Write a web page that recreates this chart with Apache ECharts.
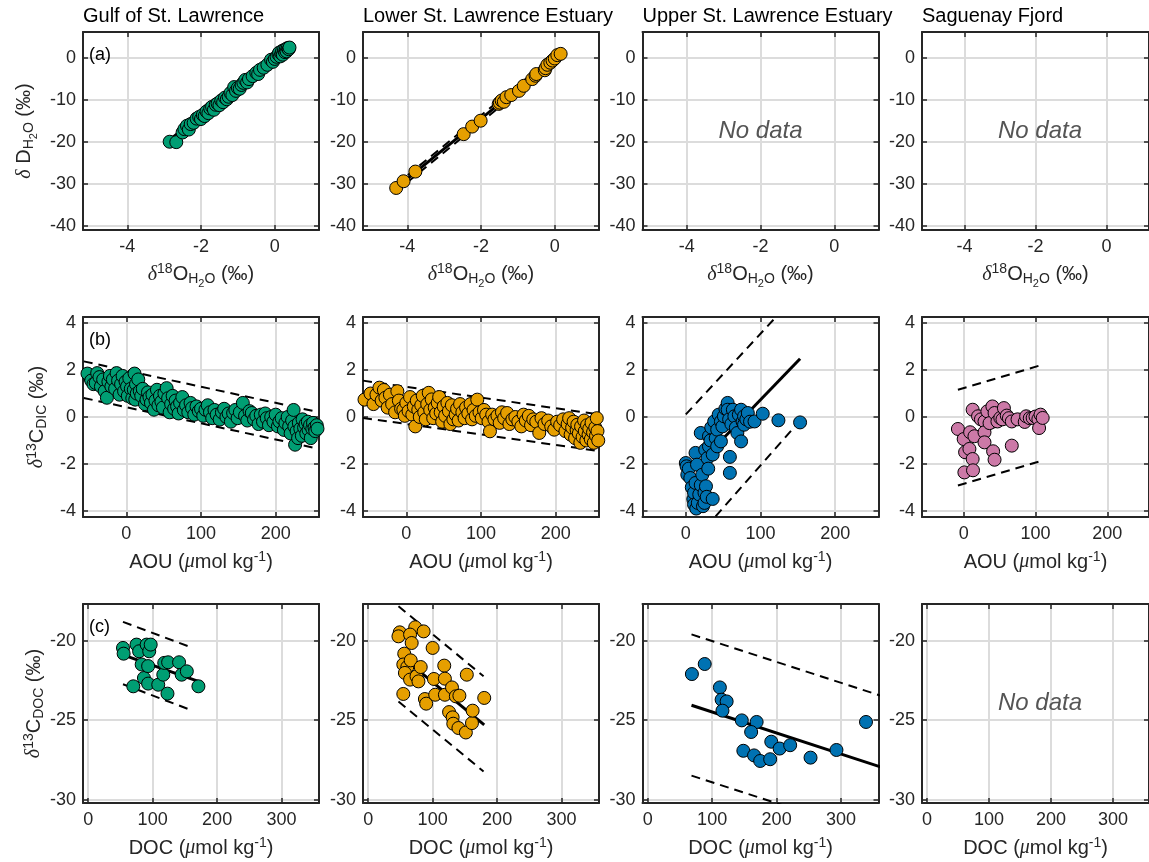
<!DOCTYPE html>
<html><head><meta charset="utf-8">
<script src="https://cdn.jsdelivr.net/npm/echarts@6/dist/echarts.min.js"></script>
<style>html,body{margin:0;padding:0;background:#fff}#c{width:1149px;height:862px}</style>
</head><body><div id="c"></div>
<script>
// ---------------- DATA ----------------
const columnTitles = ['Gulf of St. Lawrence', 'Lower St. Lawrence Estuary', 'Upper St. Lawrence Estuary', 'Saguenay Fjord'];
const panelLetters = ['(a)', '(b)', '(c)'];
const noDataText = 'No data';

const rowXRange = [[-5.2, 1.2], [-58, 258], [-8, 358]];
const rowYRange = [[-41, 6.1], [-4.26, 4.26], [-30.2, -17.7]];
const rowXTicks = [[-4, -2, 0], [0, 100, 200], [0, 100, 200, 300]];
const rowYTicks = [[-40, -30, -20, -10, 0], [-4, -2, 0, 2, 4], [-30, -25, -20]];

// (a) water isotopes
const gulfD18O = [-2.85,-2.67,-2.5,-2.45,-2.38,-2.33,-2.28,-2.2,-2.12,-2.05,-2.0,-1.95,-1.9,-1.85,-1.8,-1.75,-1.7,-1.65,-1.6,-1.55,-1.5,-1.45,-1.4,-1.35,-1.3,-1.25,-1.2,-1.15,-1.1,-1.05,-1.0,-0.95,-0.9,-0.85,-0.8,-0.75,-0.7,-0.6,-0.5,-0.45,-0.4,-0.3,-0.2,-0.1,-0.05,0.0,0.05,0.1,0.12,0.15,0.18,0.2,0.22,0.25,0.28,0.3,0.32,0.35,0.38,0.4];
const gulfDD   = [-20.0,-20.1,-17.8,-17.0,-16.2,-17.1,-15.8,-15.5,-14.5,-14.1,-14.6,-13.6,-13.9,-12.8,-13.2,-12.1,-11.7,-12.4,-11.2,-10.9,-11.3,-10.2,-10.6,-9.5,-9.9,-9.3,-8.4,-8.9,-7.0,-7.9,-7.2,-7.4,-6.5,-6.0,-5.3,-5.9,-5.1,-4.4,-3.6,-3.9,-2.9,-2.4,-1.7,-0.5,-1.0,-0.3,0.2,0.8,1.2,0.3,1.0,1.6,0.7,1.8,1.3,2.0,1.5,2.3,2.0,2.4];
const lowerD18O = [-4.30,-4.10,-3.78,-2.47,-2.24,-2.01,-1.52,-1.49,-1.44,-1.38,-1.31,-1.18,-0.97,-0.84,-0.61,-0.52,-0.50,-0.27,-0.25,-0.20,-0.12,-0.06,0.0,0.07,0.16];
const lowerDD   = [-31.0,-29.4,-27.1,-18.2,-16.4,-15.0,-11.0,-10.7,-10.2,-10.5,-9.4,-8.9,-7.9,-6.7,-5.1,-4.3,-3.9,-3.0,-2.5,-1.7,-1.2,-0.7,-0.2,0.6,0.9];

// (b) AOU vs d13C-DIC  [AOU, d13C]
const gulfDicPoints = [[-52,1.85],[-47,1.55],[-44,1.4],[-41,1.45],[-39,1.87],[-36,1.7],[-34,1.3],[-31,1.6],[-29,1.1],[-26,0.82],[-24,1.5],[-22,1.75],[-20,1.3],[-18,1.6],[-15,1.2],[-13,1.87],[-11,1.55],[-9,0.95],[-7,1.4],[-5,1.75],[-3,1.1],[-1,1.5],[1,1.3],[2,0.9],[4,1.65],[6,1.2],[8,0.8],[10,1.16],[11,1.85],[12,0.74],[13,1.4],[14,1.0],[16,1.6],[18,1.1],[20,0.9],[22,1.2],[25,0.55],[27,0.74],[29,1.05],[31,0.85],[33,0.6],[35,0.95],[37,0.31],[39,0.7],[41,1.16],[43,0.5],[45,0.9],[47,0.65],[49,0.4],[51,1.0],[54,1.23],[56,0.8],[58,0.2],[60,0.55],[62,0.9],[64,0.35],[66,0.7],[68,0.45],[70,0.15],[72,0.6],[75,0.85],[77,0.3],[80,0.5],[83,0.2],[86,0.6],[88,0.38],[91,0.1],[94,0.45],[97,0.25],[100,0.35],[103,0.05],[106,0.31],[109,0.5],[112,0.2],[115,-0.05],[118,0.3],[121,0.1],[125,-0.11],[128,0.2],[131,0.35],[134,0.0],[137,0.15],[140,-0.2],[143,0.17],[146,0.3],[149,-0.05],[152,0.2],[156,0.6],[159,0.05],[162,-0.15],[165,0.25],[168,0.17],[171,-0.1],[174,0.05],[177,-0.3],[180,0.1],[183,-0.2],[186,0.15],[188,-0.05],[191,-0.35],[194,0.0],[197,-0.2],[200,0.1],[203,-0.4],[205,-0.19],[208,-0.05],[211,-0.55],[213,-0.25],[216,0.0],[218,-0.4],[220,-0.7],[222,-0.15],[224,0.3],[225,-0.4],[226,-1.18],[228,-0.6],[230,-0.9],[231,-0.25],[233,-0.5],[235,-0.8],[236,-0.1],[238,-0.45],[240,-0.3],[241,-0.7],[243,-0.2],[244,-0.55],[246,-0.35],[247,-0.9],[249,-0.5],[250,-0.25],[252,-0.45],[253,-0.6],[255,-0.35],[256,-0.5]];
const lowerDicPoints = [[-56,0.74],[-48,1.0],[-44,0.55],[-40,0.95],[-36,1.25],[-33,0.7],[-30,1.15],[-28,0.82],[-25,0.4],[-22,0.95],[-19,0.55],[-15,0.2],[-12,1.1],[-10,0.7],[-7,0.35],[-4,0.31],[-2,0.05],[0,0.6],[3,0.25],[5,0.85],[8,0.1],[10,0.45],[12,-0.4],[14,0.7],[16,0.3],[18,0.0],[20,0.5],[22,0.9],[24,0.2],[26,-0.1],[28,0.55],[30,1.03],[32,0.3],[34,0.75],[36,-0.05],[38,0.4],[40,0.15],[42,0.6],[44,0.85],[46,0.2],[48,-0.2],[50,0.45],[52,0.05],[55,0.6],[57,0.25],[59,-0.3],[61,0.5],[63,-0.1],[66,0.1],[68,0.35],[70,-0.15],[72,0.55],[75,0.2],[78,-0.05],[80,0.4],[83,0.15],[86,0.55],[88,-0.1],[90,0.3],[93,0.05],[95,0.74],[98,0.2],[101,-0.05],[104,0.3],[107,0.1],[110,-0.2],[112,-0.61],[115,0.1],[118,-0.1],[122,0.05],[125,-0.25],[128,0.2],[131,-0.05],[135,0.17],[138,-0.3],[142,-0.1],[146,0.0],[150,-0.2],[154,-0.4],[157,0.1],[160,-0.15],[164,0.05],[167,-0.35],[170,-0.1],[174,-0.2],[178,-0.68],[181,-0.05],[185,-0.3],[190,-0.15],[194,-0.4],[198,-0.54],[202,-0.2],[206,-0.35],[210,-0.1],[213,-0.6],[216,-0.3],[218,-0.05],[220,-0.75],[222,-0.45],[224,-0.2],[226,-0.9],[228,-0.55],[229,-0.33],[231,-0.7],[233,-1.1],[234,-0.4],[236,-0.85],[238,-0.15],[239,-0.6],[241,-1.0],[242,-0.35],[244,-0.75],[245,-0.5],[247,-0.95],[248,-0.25],[250,-0.65],[251,-1.1],[253,-0.45],[254,-0.8],[255,-0.05],[256,-0.6],[257,-1.0]];
const upperDicPoints = [[0,-1.96],[1,-2.1],[2,-2.46],[4,-2.2],[6,-2.6],[8,-3.0],[10,-3.5],[11,-3.23],[11,-3.73],[13,-1.53],[13,-2.81],[14,-3.9],[15,-2.03],[16,-3.66],[18,-3.3],[20,-0.68],[20,-2.9],[22,-2.46],[23,-3.8],[25,-3.23],[25,-3.66],[26,-1.4],[27,-2.95],[28,-3.4],[29,-1.75],[30,-2.2],[31,-0.82],[31,-1.25],[33,-1.0],[34,-0.45],[36,-3.49],[36,-1.6],[38,-0.19],[40,-0.9],[42,-0.54],[42,-1.25],[44,0.1],[47,-0.19],[47,-1.04],[49,-0.4],[51,0.03],[53,0.35],[56,0.6],[56,0.31],[58,-0.1],[59,-1.70],[59,-2.38],[61,-0.3],[63,0.31],[65,0.03],[67,-0.45],[69,-0.68],[71,0.1],[74,0.31],[74,-1.04],[76,-0.2],[78,0.03],[78,-0.33],[81,-0.1],[83,0.17],[86,-0.2],[92,-0.19],[103,0.14],[124,-0.14],[153,-0.23]];
const sagDicPoints = [[-8,-0.51],[0,-0.94],[1,-2.36],[2,-1.5],[8,-1.36],[9,-0.65],[12.5,-1.79],[12.5,0.31],[13,-2.27],[15,-0.82],[20,0.03],[24,-0.1],[29,-0.19],[29,-0.65],[29,-1.08],[33,0.24],[36,-0.26],[40,0.45],[41,-1.46],[43,0.17],[43,-1.82],[47,-0.19],[51,-0.04],[54,-0.1],[56,0.38],[60,0.06],[63,-0.05],[67,-0.19],[67,-1.22],[75,-0.1],[85,-0.21],[87,0.03],[92,-0.05],[96,-0.04],[100,0.02],[104,-0.09],[105,-0.47],[107,0.1],[110,-0.04]];

// (c) DOC vs d13C-DOC  [DOC, d13C]
const gulfDocPoints = [[54,-20.46],[55,-20.82],[70,-22.87],[75,-20.25],[79,-20.67],[83,-21.5],[86.5,-22.35],[90.7,-20.25],[94.7,-20.67],[97,-20.25],[93,-21.6],[93,-22.7],[108.7,-22.77],[116.5,-22.14],[118,-21.4],[124,-21.36],[123,-23.33],[141,-21.36],[145,-22.14],[153,-21.93],[171,-22.87]];
const lowerDocPoints = [[49,-19.48],[47,-19.73],[73,-19.16],[86,-19.42],[100,-20.46],[65,-19.62],[67.5,-20.15],[56,-20.82],[54.5,-21.5],[60.7,-21.66],[66,-21.24],[57,-22.03],[65,-22.45],[75,-22.24],[81.5,-21.66],[78,-22.56],[54.5,-23.35],[88,-23.67],[90,-23.96],[102,-22.41],[104,-23.4],[118,-21.57],[119,-22.39],[119,-23.4],[130,-22.94],[136,-23.5],[141.5,-23.46],[125.5,-24.49],[131,-24.82],[132,-25.22],[140,-25.49],[151.5,-25.77],[161,-25.18],[162,-24.4],[153,-22.14],[180,-23.6]];
const upperDocPoints = [[68.6,-22.1],[88.5,-21.47],[112,-22.94],[114.7,-23.71],[122.5,-23.82],[116,-24.4],[146,-25.01],[169,-25.11],[160.5,-25.74],[148.4,-26.92],[165,-27.21],[174.5,-27.56],[190,-27.45],[191.7,-26.35],[204.7,-26.78],[221,-26.57],[252.6,-27.35],[292.8,-26.87],[338.6,-25.11]];

// regression lines (x ends, fitted y) and prediction bounds (dashed)
const gulfIsoFitX = [-2.85, 0.4],  gulfIsoFitY = [-20.2, 2.26],  gulfIsoHiY = [-19.4, 3.06],  gulfIsoLoY = [-21.0, 1.46];
const lowerIsoFitX = [-4.3, 0.16], lowerIsoFitY = [-30.99, 0.9], lowerIsoHiY = [-30.2, 1.7],  lowerIsoLoY = [-31.8, 0.1];
const gulfDicFitX = [-57, 257],  gulfDicFitY = [1.59, -0.57],  gulfDicHiY = [2.37, 0.21],  gulfDicLoY = [0.81, -1.35];
const lowerDicFitX = [-58, 258], lowerDicFitY = [0.75, -0.67], lowerDicHiY = [1.55, 0.11], lowerDicLoY = [-0.04, -1.45];
const upperDicFitX = [0, 153],   upperDicFitY = [-2.57, 2.48], upperDicHiY = [0.11, 5.37], upperDicLoY = [-5.67, -0.15];
const sagDicFitX = [-8, 110],    sagDicFitY = [-0.88, 0.19],   sagDicHiY = [1.16, 2.23],   sagDicLoY = [-2.92, -1.85];
const gulfDocFitX = [54, 171],   gulfDocFitY = [-20.9, -22.56],  gulfDocBandX = [54, 162],  gulfDocHiY = [-18.82, -20.46], gulfDocLoY = [-22.74, -24.4];
const lowerDocFitX = [47, 180],  lowerDocFitY = [-20.83, -25.29], lowerDocBandX = [47, 179], lowerDocHiY = [-17.84, -22.24], lowerDocLoY = [-23.82, -28.22];
const upperDocFitX = [68, 370],  upperDocFitY = [-24.06, -28.05], upperDocBandX = [68, 370], upperDocHiY = [-19.61, -23.57], upperDocLoY = [-28.48, -32.45];

// ---------------- STYLE / LAYOUT ----------------
const GREEN = '#009E73', ORANGE = '#E69F00', BLUE = '#0072B2', PINK = '#CC79A7';
const AX = '#262626';
const gridLefts = [83, 363, 642.5, 922];
const gridWidth = 236;
const gridTops = [32, 317, 604];
const gridHeights = [198, 200, 199];

const zip = (a, b) => a.map((v, i) => [v, b[i]]);
const fit = (fx, fy, hi, lo, bx) => ({ fx, fy, bx: bx || fx, hi, lo });

const panels = [
  { r: 0, c: 0, pts: zip(gulfD18O, gulfDD), color: GREEN, fit: fit(gulfIsoFitX, gulfIsoFitY, gulfIsoHiY, gulfIsoLoY) },
  { r: 0, c: 1, pts: zip(lowerD18O, lowerDD), color: ORANGE, fit: fit(lowerIsoFitX, lowerIsoFitY, lowerIsoHiY, lowerIsoLoY) },
  { r: 0, c: 2, noData: true },
  { r: 0, c: 3, noData: true },
  { r: 1, c: 0, pts: gulfDicPoints, color: GREEN, fit: fit(gulfDicFitX, gulfDicFitY, gulfDicHiY, gulfDicLoY) },
  { r: 1, c: 1, pts: lowerDicPoints, color: ORANGE, fit: fit(lowerDicFitX, lowerDicFitY, lowerDicHiY, lowerDicLoY) },
  { r: 1, c: 2, pts: upperDicPoints, color: BLUE, fit: fit(upperDicFitX, upperDicFitY, upperDicHiY, upperDicLoY) },
  { r: 1, c: 3, pts: sagDicPoints, color: PINK, fit: fit(sagDicFitX, sagDicFitY, sagDicHiY, sagDicLoY) },
  { r: 2, c: 0, pts: gulfDocPoints, color: GREEN, fit: fit(gulfDocFitX, gulfDocFitY, gulfDocHiY, gulfDocLoY, gulfDocBandX) },
  { r: 2, c: 1, pts: lowerDocPoints, color: ORANGE, fit: fit(lowerDocFitX, lowerDocFitY, lowerDocHiY, lowerDocLoY, lowerDocBandX) },
  { r: 2, c: 2, pts: upperDocPoints, color: BLUE, fit: fit(upperDocFitX, upperDocFitY, upperDocHiY, upperDocLoY, upperDocBandX) },
  { r: 2, c: 3, noData: true }
];

const rich = {
  b: { fontSize: 20, fontFamily: 'Liberation Sans', color: AX },
  it: { fontSize: 20, fontFamily: 'Liberation Serif', fontStyle: 'italic', color: AX },
  sup: { fontSize: 14, fontFamily: 'Liberation Sans', color: AX, padding: [0, 0, 10, 0] },
  sub: { fontSize: 14, fontFamily: 'Liberation Sans', color: AX, padding: [10, 0, 0, 0] },
  sub2: { fontSize: 11, fontFamily: 'Liberation Sans', color: AX, padding: [18, 0, 0, 0] }
};
const xNames = [
  '{it|δ}{sup|18}{b|O}{sub|H}{sub2|2}{sub|O}{b| (‰)}',
  '{b|AOU (}{it|μ}{b|mol kg}{sup|-1}{b|)}',
  '{b|DOC (}{it|μ}{b|mol kg}{sup|-1}{b|)}'
];
const yNames = [
  '{it|δ}{b| D}{sub|H}{sub2|2}{sub|O}{b| (‰)}',
  '{it|δ}{sup|13}{b|C}{sub|DIC}{b| (‰)}',
  '{it|δ}{sup|13}{b|C}{sub|DOC}{b| (‰)}'
];
const xNameGap = [30, 33, 33];
const yNameGap = [44, 34, 34];

const grid = [], xAxis = [], yAxis = [], series = [], graphic = [];
const tickStyle = { color: AX, width: 1.5 };
const splitStyle = { color: '#dcdcdc', width: 2 };
const labelStyle = { fontSize: 18, color: AX, fontFamily: 'Liberation Sans' };

panels.forEach((p, i) => {
  const r = p.r, c = p.c;
  grid.push({ left: gridLefts[c], top: gridTops[r], width: gridWidth, height: gridHeights[r], containLabel: false });
  const xr = rowXRange[r], yr = rowYRange[r];
  const common = { type: 'value', gridIndex: i, axisLine: { show: true, onZero: false, lineStyle: { color: AX, width: 2 } } };
  xAxis.push(Object.assign({}, common, {
    position: 'bottom', min: xr[0], max: xr[1],
    axisTick: { show: true, inside: true, length: 5, customValues: rowXTicks[r], lineStyle: tickStyle },
    axisLabel: Object.assign({ show: true, margin: 8, customValues: rowXTicks[r] }, labelStyle),
    splitLine: { show: true, lineStyle: splitStyle },
    name: xNames[r], nameLocation: 'middle', nameGap: xNameGap[r], nameTextStyle: { rich }
  }));
  xAxis.push(Object.assign({}, common, {
    position: 'top', min: xr[0], max: xr[1],
    axisTick: { show: true, inside: true, length: 5, customValues: rowXTicks[r], lineStyle: tickStyle },
    axisLabel: { show: false }, splitLine: { show: false }
  }));
  yAxis.push(Object.assign({}, common, {
    position: 'left', min: yr[0], max: yr[1],
    axisTick: { show: true, inside: true, length: 5, customValues: rowYTicks[r], lineStyle: tickStyle },
    axisLabel: Object.assign({ show: true, margin: 7, customValues: rowYTicks[r] }, labelStyle),
    splitLine: { show: true, lineStyle: splitStyle },
    name: c === 0 ? yNames[r] : '', nameLocation: 'middle', nameGap: yNameGap[r], nameTextStyle: { rich }
  }));
  yAxis.push(Object.assign({}, common, {
    position: 'right', min: yr[0], max: yr[1],
    axisTick: { show: true, inside: true, length: 5, customValues: rowYTicks[r], lineStyle: tickStyle },
    axisLabel: { show: false }, splitLine: { show: false }
  }));
  const xi = 2 * i, yi = 2 * i;
  if (p.fit) {
    const f = p.fit;
    series.push({ type: 'line', xAxisIndex: xi, yAxisIndex: yi, data: zip(f.fx, f.fy), symbol: 'none', z: 2,
      lineStyle: { color: '#000', width: 3 }, silent: true, animation: false });
    [f.hi, f.lo].forEach(b => series.push({ type: 'line', xAxisIndex: xi, yAxisIndex: yi, data: zip(f.bx, b), symbol: 'none', z: 2,
      lineStyle: { color: '#000', width: 2, type: [9, 6] }, silent: true, animation: false }));
  }
  if (p.pts) {
    series.push({ type: 'scatter', xAxisIndex: xi, yAxisIndex: yi, data: p.pts, symbol: 'circle', symbolSize: 13, z: 3,
      itemStyle: { color: p.color, borderColor: '#000', borderWidth: 1, opacity: 1 }, silent: true, animation: false });
  }
  if (p.noData) {
    graphic.push({ type: 'text', x: gridLefts[c] + gridWidth / 2, y: gridTops[r] + gridHeights[r] / 2, z: 10,
      style: { text: noDataText, fill: '#555555', font: 'italic 24px "Liberation Sans"', textAlign: 'center', textVerticalAlign: 'middle' } });
  }
});

columnTitles.forEach((t, c) => graphic.push({ type: 'text', x: gridLefts[c], y: 16, z: 10,
  style: { text: t, fill: '#000', font: '20px "Liberation Sans"', textAlign: 'left', textVerticalAlign: 'middle' } }));
panelLetters.forEach((t, r) => graphic.push({ type: 'text', x: gridLefts[0] + 6, y: gridTops[r] + 23, z: 10,
  style: { text: t, fill: '#000', font: '18px "Liberation Sans"', textAlign: 'left', textVerticalAlign: 'middle' } }));

const chart = echarts.init(document.getElementById('c'), null, { renderer: 'canvas' });
chart.setOption({ animation: false, backgroundColor: '#fff', grid, xAxis, yAxis, series, graphic });
</script></body></html>
